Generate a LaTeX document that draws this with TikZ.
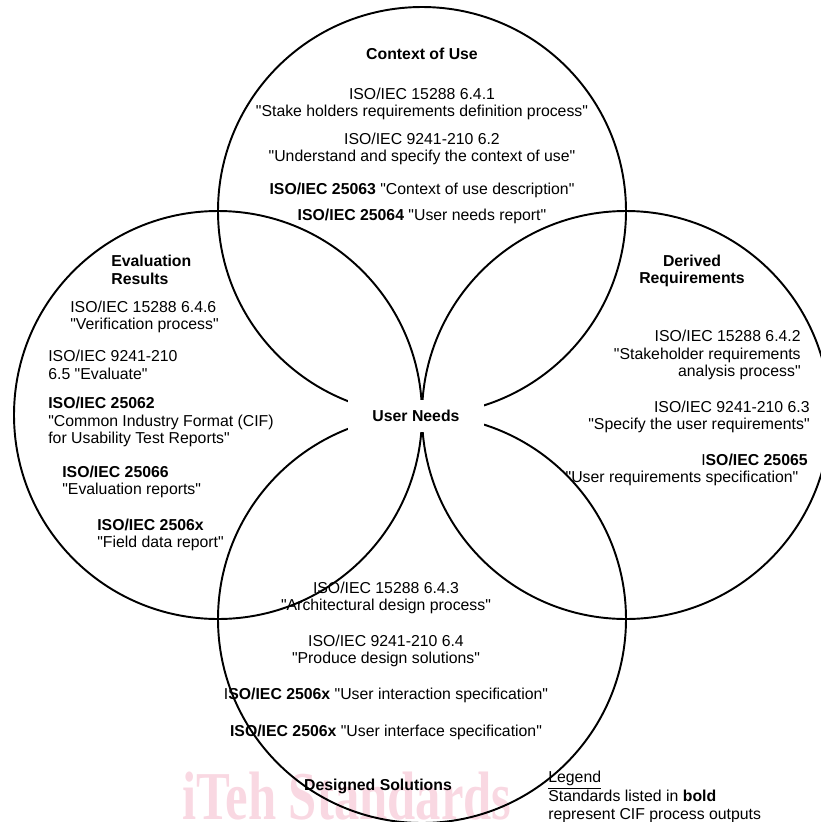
\documentclass[tikz,border=0pt]{standalone}
\usepackage{fontspec}
\setmainfont{Liberation Sans}[Ligatures=TeXOff]
\newfontfamily\wmfont{Liberation Serif}
\usepackage{graphicx}
\usetikzlibrary{calc}
\definecolor{wmpink}{RGB}{249,216,226}
\newcommand{\drawRing}[1]{
	\draw[ring] (#1) circle [radius=204];
}
\tikzset{
	ring/.style={line width=1.1pt, black},
	std/.style={font=\fontsize{9}{10}\selectfont, align=center, inner sep=0pt},
	stdL/.style={std, align=left, anchor=west},
	stdR/.style={std, align=right, anchor=east},
	heading/.style={std, font=\fontsize{9}{10}\selectfont\bfseries}
}

\begin{document}
\begin{tikzpicture}[x=0.02cm, y=-0.02cm]

		\useasboundingbox (0,0) rectangle (821,822);
		\clip (0,0) rectangle (821,822);

		\coordinate (C_T) at (422,211);
		\coordinate (C_L) at (218,415);
		\coordinate (C_R) at (626,415);
		\coordinate (C_B) at (422,619);

		\node[anchor=base west, inner sep=0pt, text=wmpink] (wm) at (182,819)
			{\scalebox{0.74}[1]{\wmfont\fontsize{39}{39}\selectfont\bfseries iTeh Standards}};

		\drawRing{C_T}
		\drawRing{C_L}
		\drawRing{C_R}
		\drawRing{C_B}

		\node[heading, fill=white, minimum width=2.74cm, minimum height=0.64cm] (userNeeds) at (416,416) {User Needs};

		% context of use
		\node[heading] (ctxHead) at (422,54) {Context of Use};
		\node[std] (ctx15288) at (422,104) {ISO/IEC 15288 6.4.1\\"Stake holders requirements definition process"};
		\node[std] (ctx9241) at (422,149) {ISO/IEC 9241-210 6.2\\"Understand and specify the context of use"};
		\node[std] (ctx25063) at (422,190) {\textbf{ISO/IEC 25063} "Context of use description"};
		\node[std] (ctx25064) at (422,216) {\textbf{ISO/IEC 25064} "User needs report"};

		% evaluation results
		\node[heading, align=left, anchor=west] (evalHead) at (111,270) {Evaluation\\Results};
		\node[stdL] (eval15288) at (70,317) {ISO/IEC 15288 6.4.6\\"Verification process"};
		\node[stdL] (eval9241) at (48,365) {ISO/IEC 9241-210\\6.5 "Evaluate"};
		\node[stdL] (eval25062) at (48,422) {\textbf{ISO/IEC 25062}\\"Common Industry Format (CIF)\\for Usability Test Reports"};
		\node[stdL] (eval25066) at (62,482) {\textbf{ISO/IEC 25066}\\"Evaluation reports"};
		\node[stdL] (eval2506x) at (97,535) {\textbf{ISO/IEC 2506x}\\"Field data report"};

		% derived requirements
		\node[heading] (reqHead) at (692,271) {Derived\\Requirements};
		\node[stdR] (req15288) at (801,355) {ISO/IEC 15288 6.4.2\\"Stakeholder requirements\\analysis process"};
		\node[stdR] (req9241) at (810,417) {ISO/IEC 9241-210 6.3\\"Specify the user requirements"};
		\node[stdR] (req25065) at (808,460) {I\textbf{SO/IEC 25065}};
		\node[std] (req25065d) at (682,478) {"User requirements specification"};

		% designed solutions
		\node[std] (des15288) at (386,598) {ISO/IEC 15288 6.4.3\\"Architectural design process"};
		\node[std] (des9241) at (386,651) {ISO/IEC 9241-210 6.4\\"Produce design solutions"};
		\node[std] (des2506xA) at (386,695) {I\textbf{SO/IEC 2506x} "User interaction specification"};
		\node[std] (des2506xB) at (386,732) {\textbf{ISO/IEC 2506x} "User interface specification"};
		\node[heading] (desHead) at (378,786) {Designed Solutions};

		% legend
		\node[stdL, font=\fontsize{9}{10.5}\selectfont] (legend) at (548,797) {\underline{Legend}\\Standards listed in \textbf{bold}\\represent CIF process outputs};

	\end{tikzpicture}
\end{document}
